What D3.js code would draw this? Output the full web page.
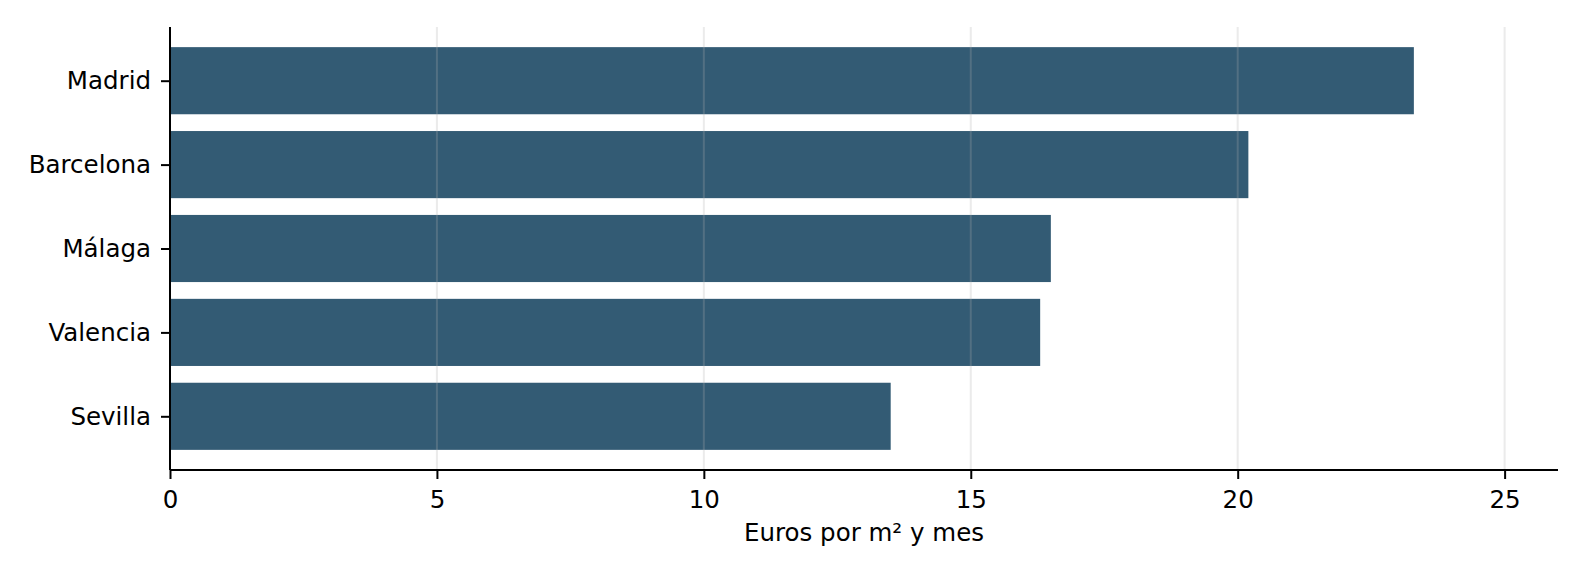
<!DOCTYPE html>
<html>
<head>
<meta charset="utf-8">
<script src="https://cdn.jsdelivr.net/npm/d3@7"></script>
<style>
  html, body { margin: 0; padding: 0; background: #ffffff; }
  text { font-family: "DejaVu Sans", sans-serif; fill: #000; }
</style>
</head>
<body>
<div id="chart"></div>
<script>
// values
const cities = ["Madrid", "Barcelona", "Málaga", "Valencia", "Sevilla"];
const rents = [23.3, 20.2, 16.5, 16.3, 13.5];
const xTicks = [0, 5, 10, 15, 20, 25];
const xLabel = "Euros por m² y mes";

const W = 1584, H = 576;
const plotL = 170, plotR = 1558, plotT = 27, plotB = 470;
const fontSize = 24.5;

const svg = d3.select("#chart").append("svg")
    .attr("width", W)
    .attr("height", H);

const x = d3.scaleLinear().domain([0, 26]).range([plotL, plotR]);
// matplotlib style: categories at 0..n-1, bars 0.8 thick, 5% margins
const y = d3.scaleLinear().domain([-0.64, cities.length - 1 + 0.64]).range([plotT, plotB]);
const barH = y(0.4) - y(-0.4);

// bars
svg.append("g").selectAll("rect")
    .data(cities)
    .join("rect")
    .attr("x", x(0))
    .attr("y", (d, i) => y(i - 0.4))
    .attr("width", (d, i) => x(rents[i]) - x(0))
    .attr("height", barH)
    .attr("fill", "#335b74");

// vertical grid, sits over the bars
svg.append("g").selectAll("line")
    .data(xTicks)
    .join("line")
    .attr("x1", d => x(d))
    .attr("x2", d => x(d))
    .attr("y1", plotT)
    .attr("y2", plotB)
    .attr("stroke", "#b0b0b0")
    .attr("stroke-opacity", 0.25)
    .attr("stroke-width", 2);

// x axis
const xAxis = svg.append("g")
    .attr("transform", `translate(0,${plotB})`)
    .call(d3.axisBottom(x).tickValues(xTicks).tickFormat(d3.format("d")).tickSize(9).tickPadding(12).tickSizeOuter(0));

// y axis
const yAxis = svg.append("g")
    .attr("transform", `translate(${plotL},0)`)
    .call(d3.axisLeft(y).tickValues(d3.range(cities.length)).tickFormat(i => cities[i]).tickSize(9).tickPadding(10).tickSizeOuter(0));

[xAxis, yAxis].forEach(ax => {
    ax.selectAll("text").style("font-size", fontSize + "px").attr("font-family", null);
    ax.selectAll("line").attr("stroke", "#000").attr("stroke-width", 2);
    ax.select(".domain").attr("stroke", "#000").attr("stroke-width", 2);
});
// spine length as in the reference
yAxis.select(".domain").attr("d", `M0,${plotT}V${plotB}`);
xAxis.select(".domain").attr("d", `M${plotL},0H${plotR}`);

svg.append("text")
    .attr("x", (plotL + plotR) / 2)
    .attr("y", 541)
    .attr("text-anchor", "middle")
    .style("font-size", fontSize + "px")
    .text(xLabel);
</script>
</body>
</html>
